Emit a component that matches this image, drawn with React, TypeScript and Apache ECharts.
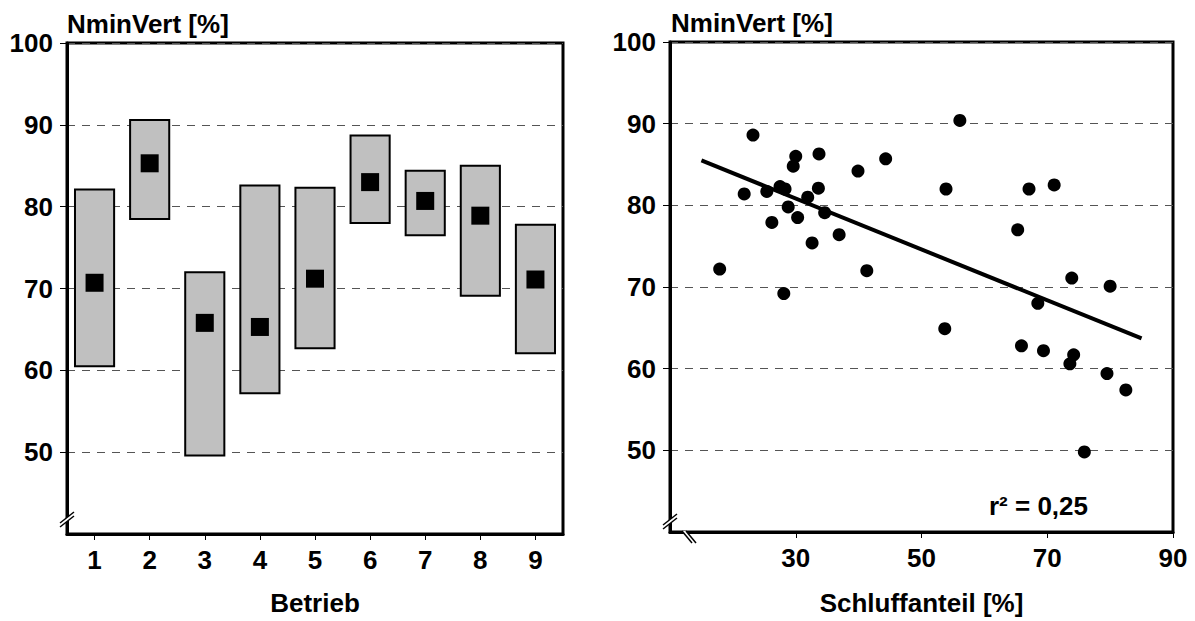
import React, { useEffect, useRef } from "react";
import * as echarts from "echarts";

// Left chart: Betrieb ranges
const betriebe = ["1", "2", "3", "4", "5", "6", "7", "8", "9"];
const boxLow = [60.5, 78.5, 49.6, 57.2, 62.7, 78.0, 76.5, 69.1, 62.1];
const boxHigh = [82.1, 90.6, 72.0, 82.6, 82.3, 88.7, 84.4, 85.0, 77.8];
const boxMean = [70.7, 85.3, 65.8, 65.3, 71.2, 83.0, 80.7, 78.9, 71.1];

// Right chart: NminVert vs Schluffanteil
const schluffX = [
  23.2, 30.0, 29.6, 33.7, 39.9, 44.3, 56.1, 21.8, 25.4, 27.5, 28.3, 33.6, 31.9,
  28.8, 34.6, 30.3, 26.2, 36.9, 32.6, 53.9, 17.9, 41.3, 28.1, 53.7, 73.9, 80.0,
  68.5, 65.9, 69.4, 74.2, 73.6, 79.5, 82.5, 75.9, 67.1, 71.1, 65.3,
];
const nminY = [
  88.6, 86.0, 84.8, 86.3, 84.2, 85.7, 90.4, 81.4, 81.7, 82.3, 82.0, 82.1, 81.0,
  79.8, 79.1, 78.5, 77.9, 76.4, 75.4, 82.0, 72.2, 72.0, 69.2, 64.9, 71.1, 70.1,
  68.0, 62.8, 62.2, 61.7, 60.6, 59.4, 57.4, 49.8, 82.0, 82.5, 77.0,
];
const trendX = [15, 85];
const trendY = [85.5, 63.7];

const yTicks = [50, 60, 70, 80, 90, 100];
const xTicksRight = [30, 50, 70, 90];

const FONT = "'Liberation Sans', Arial, sans-serif";
const FS = 26;
const G1 = { left: 67, top: 43, width: 496, height: 492 };
const G2 = { left: 670, top: 42, width: 503, height: 495 };

const labelStyle = { fontFamily: FONT, fontWeight: "bold" as const, fontSize: FS, color: "#000" };

function breakY(x: number, y: number) {
  return [
    { type: "polygon", z: 100, shape: { points: [[x - 7, y + 5], [x + 7, y - 6], [x + 7, y - 10], [x - 7, y + 1]] }, style: { fill: "#fff" } },
    { type: "line", z: 101, shape: { x1: x - 7, y1: y + 5, x2: x + 7, y2: y - 6 }, style: { stroke: "#000", lineWidth: 1.5 } },
    { type: "line", z: 101, shape: { x1: x - 7, y1: y + 1, x2: x + 7, y2: y - 10 }, style: { stroke: "#000", lineWidth: 1.5 } },
  ];
}
function breakX(x: number, y: number) {
  return [
    { type: "polygon", z: 100, shape: { points: [[x - 5, y - 6], [x + 5, y + 6], [x + 9, y + 6], [x - 1, y - 6]] }, style: { fill: "#fff" } },
    { type: "line", z: 101, shape: { x1: x - 5, y1: y - 6, x2: x + 5, y2: y + 6 }, style: { stroke: "#000", lineWidth: 1.5 } },
    { type: "line", z: 101, shape: { x1: x - 1, y1: y - 6, x2: x + 9, y2: y + 6 }, style: { stroke: "#000", lineWidth: 1.5 } },
  ];
}

export default function App() {
  const ref = useRef<HTMLDivElement>(null);
  useEffect(() => {
    if (!ref.current) return;
    const chart = echarts.init(ref.current, null, { renderer: "svg" });
    const splitLine = { show: true, lineStyle: { color: "#555", width: 1, type: [8, 7] as any } };
    const yAxisCommon = (gridIndex: number) => ({
      type: "value",
      gridIndex,
      min: 40,
      max: 100,
      interval: 10,
      axisLine: { show: true, lineStyle: { color: "#000", width: 3 } },
      axisTick: { show: true, length: 7, inside: false, customValues: yTicks, lineStyle: { color: "#000", width: 1 } },
      axisLabel: { ...labelStyle, margin: 14, customValues: yTicks },
      splitLine,
    });
    chart.setOption({
      animation: false,
      backgroundColor: "#fff",
      grid: [
        { ...G1, show: true, borderColor: "#000", borderWidth: 3, backgroundColor: "transparent" },
        { ...G2, show: true, borderColor: "#000", borderWidth: 3, backgroundColor: "transparent" },
      ],
      xAxis: [
        {
          type: "category",
          gridIndex: 0,
          data: betriebe,
          boundaryGap: true,
          axisLine: { show: true, lineStyle: { color: "#000", width: 3 } },
          axisTick: { show: true, alignWithLabel: true, interval: 0, length: 6, lineStyle: { color: "#000", width: 1 } },
          axisLabel: { ...labelStyle, margin: 13, interval: 0 },
          splitLine: { show: false },
          name: "Betrieb",
          nameLocation: "middle",
          nameGap: 56,
          nameTextStyle: labelStyle,
        },
        {
          type: "value",
          gridIndex: 1,
          min: 10,
          max: 90,
          interval: 20,
          axisLine: { show: true, lineStyle: { color: "#000", width: 3 } },
          axisTick: { show: true, length: 6, customValues: xTicksRight, lineStyle: { color: "#000", width: 1 } },
          axisLabel: { ...labelStyle, margin: 13, customValues: xTicksRight },
          splitLine: { show: false },
          name: "Schluffanteil [%]",
          nameLocation: "middle",
          nameGap: 58,
          nameTextStyle: labelStyle,
        },
      ],
      yAxis: [yAxisCommon(0), yAxisCommon(1)],
      series: [
        {
          type: "custom",
          xAxisIndex: 0,
          yAxisIndex: 0,
          data: betriebe.map((_, i) => [i, boxLow[i], boxHigh[i]]),
          renderItem: (params: any, api: any) => {
            const lo = api.coord([api.value(0), api.value(1)]);
            const hi = api.coord([api.value(0), api.value(2)]);
            const w = api.size([1, 0])[0] * 0.71;
            return {
              type: "rect",
              shape: { x: lo[0] - w / 2, y: hi[1], width: w, height: lo[1] - hi[1] },
              style: { fill: "#c0c0c0", stroke: "#000", lineWidth: 2 },
            };
          },
          z: 2,
        },
        {
          type: "scatter",
          xAxisIndex: 0,
          yAxisIndex: 0,
          data: boxMean.map((v, i) => [i, v]),
          symbol: "rect",
          symbolSize: 18,
          itemStyle: { color: "#000", opacity: 1 },
          z: 3,
        },
        {
          type: "line",
          xAxisIndex: 1,
          yAxisIndex: 1,
          data: trendX.map((x, i) => [x, trendY[i]]),
          showSymbol: false,
          symbol: "none",
          lineStyle: { color: "#000", width: 4 },
          z: 2,
        },
        {
          type: "scatter",
          xAxisIndex: 1,
          yAxisIndex: 1,
          data: schluffX.map((x, i) => [x, nminY[i]]),
          symbol: "circle",
          symbolSize: 13,
          itemStyle: { color: "#000", opacity: 1 },
          z: 3,
        },
      ],
      graphic: [
        { type: "text", left: 67, top: 11, style: { text: "NminVert [%]", font: `bold ${FS}px ${FONT}`, fill: "#000" } },
        { type: "text", left: 671, top: 10, style: { text: "NminVert [%]", font: `bold ${FS}px ${FONT}`, fill: "#000" } },
        { type: "text", left: 989, top: 493, style: { text: "r² = 0,25", font: `bold ${FS}px ${FONT}`, fill: "#000" } },
        ...breakY(G1.left, 522),
        ...breakY(G2.left, 524),
        ...breakX(G2.left + 17, 537),
      ],
    });
    return () => chart.dispose();
  }, []);
  return <div ref={ref} style={{ position: "absolute", left: 0, top: 0, width: 1195, height: 621 }} />;
}
